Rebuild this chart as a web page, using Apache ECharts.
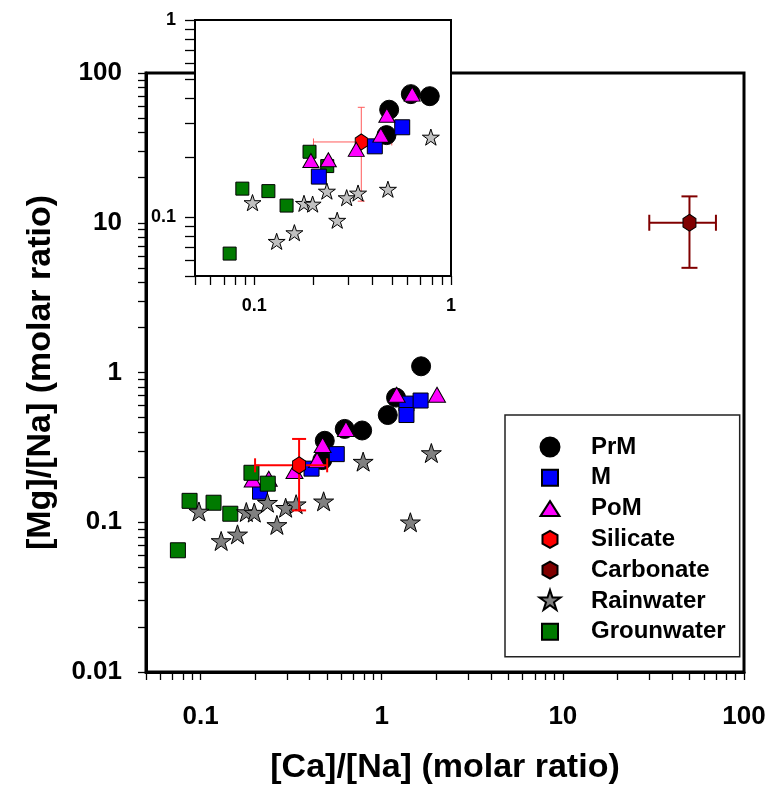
<!DOCTYPE html>
<html>
<head>
<meta charset="utf-8">
<script src="https://cdn.jsdelivr.net/npm/echarts@6/dist/echarts.min.js"></script>
</head>
<body style="margin:0">
<div id="main" style="width:770px;height:785px"></div>
<script>
// PrM
var prmX = [0.47, 0.485, 0.625, 0.78, 1.08, 1.2, 1.65];
var prmY = [0.26, 0.35, 0.42, 0.41, 0.52, 0.68, 1.1];
// M
var mX = [0.213, 0.41, 0.565, 1.37, 1.37, 1.64];
var mY = [0.16, 0.228, 0.285, 0.62, 0.52, 0.65];
// PoM
var pomX = [0.194, 0.238, 0.33, 0.44, 0.472, 0.635, 1.21, 2.02];
var pomY = [0.193, 0.195, 0.22, 0.26, 0.328, 0.42, 0.71, 0.71];
// Silicate: x, y, xLow, xHigh, yLow, yHigh
var silicate = [0.35, 0.24, 0.2, 0.5, 0.12, 0.36];
// Carbonate
var carbonate = [50, 10, 30, 70, 5, 15];
// Rainwater
var rainX = [0.098, 0.13, 0.16, 0.179, 0.198, 0.234, 0.264, 0.295, 0.337, 0.478, 0.79, 1.44, 1.88];
var rainY = [0.118, 0.075, 0.083, 0.117, 0.116, 0.135, 0.096, 0.125, 0.132, 0.138, 0.254, 0.1, 0.29];
// Grounwater
var gwX = [0.075, 0.087, 0.118, 0.146, 0.191, 0.235];
var gwY = [0.065, 0.139, 0.135, 0.114, 0.214, 0.181];

var legendNames = ['PrM', 'M', 'PoM', 'Silicate', 'Carbonate', 'Rainwater', 'Grounwater'];
var mainXLabels = [0.1, 1, 10, 100];
var mainYLabels = [0.01, 0.1, 1, 10, 100];
var insetLabels = [0.1, 1];

var FONT = 'Arial, "Liberation Sans", sans-serif';
var STAR = 'path://M0,-1L0.2245,-0.309L0.951,-0.309L0.363,0.118L0.588,0.809L0,0.382L-0.588,0.809L-0.363,0.118L-0.951,-0.309L-0.2245,-0.309Z';
var HEX = 'path://M0,-1L0.866,-0.5L0.866,0.5L0,1L-0.866,0.5L-0.866,-0.5Z';

// tick marks at 1..9 x 10^n inside [lo, hi]
function logTicks(lo, hi) {
  var out = [];
  for (var e = -3; e <= 3; e++) {
    for (var m = 1; m <= 9; m++) {
      var v = +(m * Math.pow(10, e)).toPrecision(6);
      if (v >= lo * 0.999 && v <= hi * 1.001) out.push(v);
    }
  }
  return out;
}

function zip(xs, ys) {
  return xs.map(function (x, i) { return [x, ys[i]]; });
}

function axis(gridIndex, min, max, labels, opt) {
  return {
    type: 'log', logBase: 10, gridIndex: gridIndex, min: min, max: max,
    z: opt.z || 0,
    name: opt.name || '', nameLocation: 'middle', nameGap: opt.nameGap || 0,
    nameTextStyle: {fontSize: 34, fontWeight: 'bold', color: '#000', fontFamily: FONT},
    axisLine: {lineStyle: {color: '#000', width: opt.lineWidth}},
    axisTick: {customValues: logTicks(min, max), length: opt.tickLen, lineStyle: {color: '#000', width: 1.3}},
    axisLabel: {
      customValues: labels, margin: opt.margin, fontSize: opt.fontSize, fontWeight: 'bold',
      color: '#000', fontFamily: FONT,
      formatter: function (v) { return String(+(+v).toPrecision(4)); }
    },
    splitLine: {show: false},
    minorTick: {show: false}
  };
}

function scatter(name, data, grid, symbol, size, color, border, z) {
  return {
    name: name, type: 'scatter', xAxisIndex: grid, yAxisIndex: grid,
    data: data, symbol: symbol, symbolSize: size, symbolKeepAspect: true,
    clip: true, z: z,
    itemStyle: {color: color, borderColor: border || '#000', borderWidth: 1, opacity: 1},
    emphasis: {disabled: true}
  };
}

function errorBars(name, row, grid, color, width, cap, z) {
  return {
    name: name, type: 'custom', xAxisIndex: grid, yAxisIndex: grid, z: z,
    data: [row], silent: true,
    renderItem: function (params, api) {
      var x = api.value(0), y = api.value(1);
      var c = api.coord([x, y]);
      var l = api.coord([api.value(2), y]), r = api.coord([api.value(3), y]);
      var b = api.coord([x, api.value(4)]), t = api.coord([x, api.value(5)]);
      var st = {stroke: color, lineWidth: width};
      var h = cap / 2;
      function ln(x1, y1, x2, y2) { return {type: 'line', shape: {x1: x1, y1: y1, x2: x2, y2: y2}, style: st}; }
      return {type: 'group', children: [
        ln(l[0], c[1], r[0], c[1]),
        ln(c[0], t[1], c[0], b[1]),
        ln(l[0], c[1] - h, l[0], c[1] + h),
        ln(r[0], c[1] - h, r[0], c[1] + h),
        ln(c[0] - h, t[1], c[0] + h, t[1]),
        ln(c[0] - h, b[1], c[0] + h, b[1])
      ]};
    }
  };
}

var series = [
  // main plot
  scatter('PrM', zip(prmX, prmY), 0, 'circle', 19, '#000', '#000', 2),
  scatter('M', zip(mX, mY), 0, 'rect', 15, '#0000ff', '#000', 2),
  scatter('PoM', zip(pomX, pomY), 0, 'triangle', [17, 15], '#ff00ff', '#000', 2),
  scatter('Grounwater', zip(gwX, gwY), 0, 'rect', 15, '#007a00', '#000', 2),
  scatter('Rainwater', zip(rainX, rainY), 0, STAR, 20, '#808080', '#000', 2),
  errorBars('Silicate err', silicate, 0, '#ff0000', 2, 14, 3),
  scatter('Silicate', [silicate.slice(0, 2)], 0, HEX, [15, 17], '#ff0000', '#000', 3),
  errorBars('Carbonate err', carbonate, 0, '#800000', 2, 16, 3),
  scatter('Carbonate', [carbonate.slice(0, 2)], 0, HEX, [15, 17], '#800000', '#000', 3),
  // inset
  scatter('PrM', zip(prmX, prmY), 1, 'circle', 19, '#000', '#000', 6),
  scatter('Grounwater', zip(gwX, gwY), 1, 'rect', 13, '#007a00', '#000', 6),
  scatter('M', zip(mX, mY), 1, 'rect', 15, '#0000ff', '#000', 6),
  errorBars('Silicate err', silicate, 1, '#ff5a5a', 1, 7, 6),
  scatter('Silicate', [silicate.slice(0, 2)], 1, HEX, [14, 16], '#ff0000', '#000', 6),
  scatter('PoM', zip(pomX, pomY), 1, 'triangle', [16, 14], '#ff00ff', '#000', 6),
  scatter('Rainwater', zip(rainX, rainY), 1, STAR, 17, '#c0c0c0', '#000', 6)
];

var legendIcons = {
  'PrM': 'path://M-11,-11M11,11M-9.5,0A9.5,9.5,0,1,1,9.5,0A9.5,9.5,0,1,1,-9.5,0Z',
  'M': 'path://M-11,-11M11,11M-8,-8L8,-8L8,8L-8,8Z',
  'PoM': 'path://M-11,-11M11,11M0,-7.5L9.5,7.5L-9.5,7.5Z',
  'Silicate': 'path://M-11,-11M11,11M0,-8.5L7.5,-4.25L7.5,4.25L0,8.5L-7.5,4.25L-7.5,-4.25Z',
  'Carbonate': 'path://M-11,-11M11,11M0,-8.5L7.5,-4.25L7.5,4.25L0,8.5L-7.5,4.25L-7.5,-4.25Z',
  'Rainwater': 'path://M-11,-11M11,11M0,-11L2.47,-3.4L10.46,-3.4L3.99,1.3L6.47,8.9L0,4.2L-6.47,8.9L-3.99,1.3L-10.46,-3.4L-2.47,-3.4Z',
  'Grounwater': 'path://M-11,-11M11,11M-8,-8L8,-8L8,8L-8,8Z'
};

var chart = echarts.init(document.getElementById('main'), null, {renderer: 'canvas'});
chart.setOption({
  animation: false,
  backgroundColor: '#fff',
  grid: [
    {left: 146, top: 73, width: 598, height: 599, show: true, borderColor: '#000', borderWidth: 3, z: 0,
     containLabel: false, outerBoundsMode: 'none'},
    {left: 195, top: 20, width: 256, height: 256, show: true, borderColor: '#000', borderWidth: 2, backgroundColor: '#fff', z: 5,
     containLabel: false, outerBoundsMode: 'none'}
  ],
  xAxis: [
    axis(0, 0.05, 100, mainXLabels, {name: '[Ca]/[Na] (molar ratio)', nameGap: 79, lineWidth: 3, tickLen: 8, margin: 32, fontSize: 26}),
    axis(1, 0.05, 1, insetLabels, {lineWidth: 2, tickLen: 9, margin: 21, fontSize: 18, z: 7})
  ],
  yAxis: [
    axis(0, 0.01, 100, mainYLabels, {name: '[Mg]/[Na] (molar ratio)', nameGap: 88, lineWidth: 3, tickLen: 8, margin: 24, fontSize: 26}),
    axis(1, 0.05, 1, insetLabels, {lineWidth: 2, tickLen: 10, margin: 19, fontSize: 18, z: 7})
  ],
  legend: {
    orient: 'vertical', left: 505, top: 415,
    padding: [20, 14, 13, 33],
    itemWidth: 72, itemHeight: 22, itemGap: 6.8,
    backgroundColor: '#fff', borderColor: '#222', borderWidth: 1.5, borderRadius: 0,
    selectedMode: false,
    textStyle: {fontSize: 24, fontWeight: 'bold', color: '#000', fontFamily: FONT, lineHeight: 22},
    data: legendNames.map(function (n) { return {name: n, icon: legendIcons[n]}; })
  },
  series: series
});
</script>
</body>
</html>
